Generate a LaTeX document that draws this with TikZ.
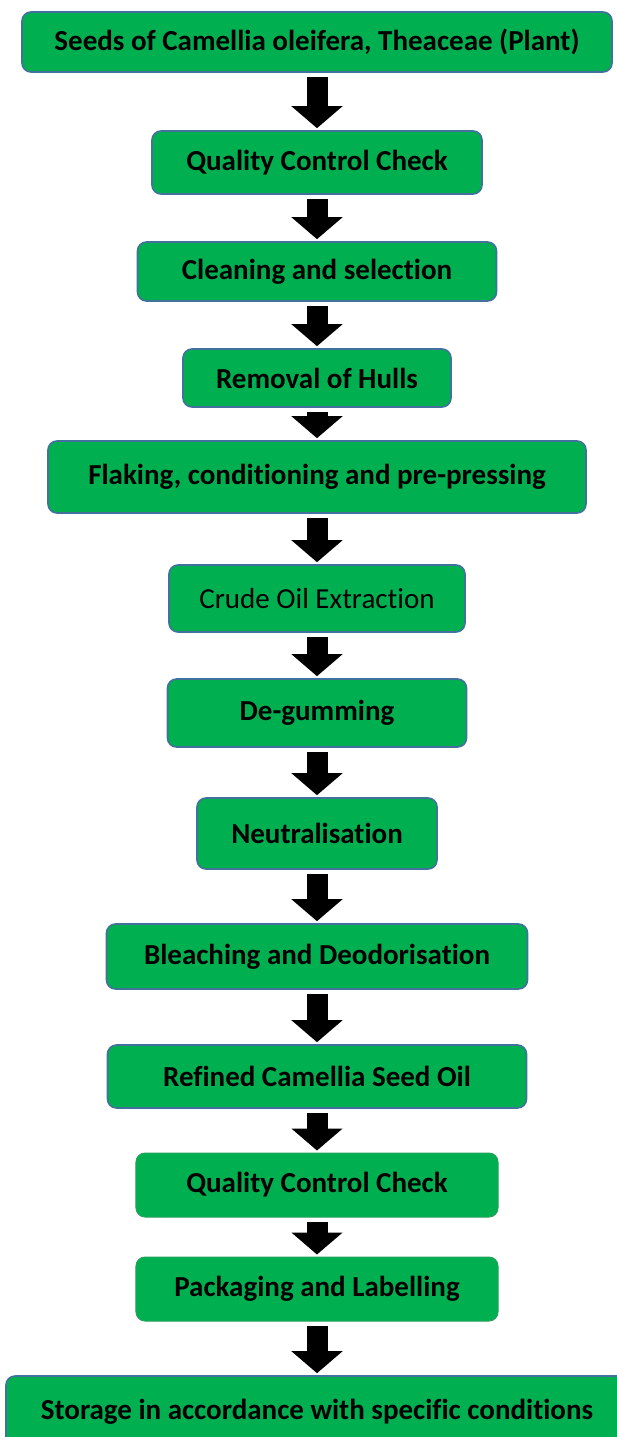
\documentclass[tikz,border=0pt]{standalone}
\usepackage{fontspec}
\setmainfont{Carlito}[Ligatures=NoCommon]
\usetikzlibrary{arrows.meta}

\definecolor{boxgreen}{HTML}{00B050}
\definecolor{boxedge}{HTML}{41719C}

\tikzset{
	stepbox/.style={draw=boxedge, line width=1.6bp, fill=boxgreen, rounded corners=9bp,
		inner sep=0pt, font=\fontsize{29bp}{32bp}\selectfont\bfseries},
	softbox/.style={stepbox, draw=boxgreen!70!gray, line width=1bp},
	flow/.style={line width=21bp, -{Triangle[width=50bp,length=22bp]}, shorten <=4bp, shorten >=2bp}
}

\begin{document}
\begin{tikzpicture}[x=1bp,y=-1bp]
	\useasboundingbox (0,0) rectangle (617,1437);
	\clip (0,0) rectangle (617,1437);

	\node[stepbox, minimum width=590bp, minimum height=60bp] (seeds) at (317,42) {Seeds of Camellia oleifera, Theaceae (Plant)};
	\node[stepbox, minimum width=330bp, minimum height=63bp] (qc-first) at (317,162.5) {Quality Control Check};
	\node[stepbox, minimum width=359bp, minimum height=59bp] (cleaning) at (317,271.5) {Cleaning and selection};
	\node[stepbox, minimum width=268bp, minimum height=58bp] (hulls) at (317,378) {Removal of Hulls};
	\node[stepbox, minimum width=538bp, minimum height=72bp] (flaking) at (317,477) {Flaking, conditioning and pre-pressing};
	\node[stepbox, minimum width=296bp, minimum height=67bp, font=\fontsize{29bp}{32bp}\selectfont] (crude-oil) at (317,598.5) {Crude Oil Extraction};
	\node[stepbox, minimum width=299bp, minimum height=68bp] (degumming) at (317,713) {De-gumming};
	\node[stepbox, minimum width=240bp, minimum height=71bp] (neutral) at (317,833.5) {Neutralisation};
	\node[stepbox, minimum width=421bp, minimum height=65bp] (bleaching) at (317,956.5) {Bleaching and Deodorisation};
	\node[stepbox, minimum width=419bp, minimum height=63bp] (refined) at (317,1076.5) {Refined Camellia Seed Oil};
	\node[softbox, minimum width=362bp, minimum height=64bp] (qc-second) at (317,1185) {Quality Control Check};
	\node[softbox, minimum width=362bp, minimum height=64bp] (packaging) at (317,1289) {Packaging and Labelling};
	\node[stepbox, minimum width=622bp, minimum height=72bp] (storage) at (317,1412) {Storage in accordance with specific conditions};

	\draw[flow] (seeds) -- (qc-first);
	\draw[flow] (qc-first) -- (cleaning);
	\draw[flow] (cleaning) -- (hulls);
	\draw[flow] (hulls) -- (flaking);
	\draw[flow] (flaking) -- (crude-oil);
	\draw[flow] (crude-oil) -- (degumming);
	\draw[flow] (degumming) -- (neutral);
	\draw[flow] (neutral) -- (bleaching);
	\draw[flow] (bleaching) -- (refined);
	\draw[flow] (refined) -- (qc-second);
	\draw[flow] (qc-second) -- (packaging);
	\draw[flow] (packaging) -- (storage);
\end{tikzpicture}
\end{document}
